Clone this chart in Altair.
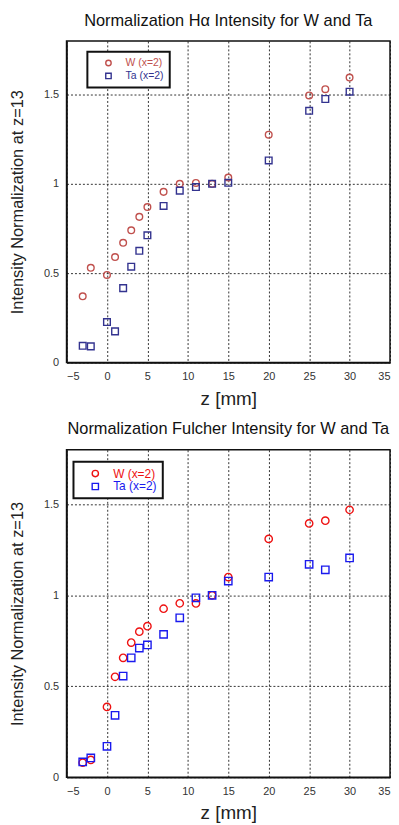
import altair as alt
import pandas as pd

# ---- data ----
z_top = [-3, -2, 0, 1, 2, 3, 4, 5, 7, 9, 11, 13, 15, 20, 25, 27, 30]
w_top = [0.37, 0.53, 0.49, 0.59, 0.67, 0.74, 0.815, 0.87, 0.955, 1.0, 1.005, 1.0, 1.035, 1.275, 1.495, 1.53, 1.595]
ta_top = [0.093, 0.09, 0.226, 0.174, 0.416, 0.536, 0.625, 0.712, 0.876, 0.962, 0.982, 1.0, 1.006, 1.131, 1.409, 1.475, 1.516]

z_bot = [-3, -2, 0, 1, 2, 3, 4, 5, 7, 9, 11, 13, 15, 20, 25, 27, 30]
w_bot = [0.08, 0.095, 0.386, 0.552, 0.656, 0.74, 0.80, 0.83, 0.926, 0.956, 0.955, 1.0, 1.10, 1.31, 1.395, 1.41, 1.47]
ta_bot = [0.084, 0.106, 0.17, 0.34, 0.556, 0.656, 0.71, 0.727, 0.785, 0.876, 0.986, 1.0, 1.078, 1.10, 1.17, 1.14, 1.205]

series = ["W (x=2)", "Ta (x=2)"]
x_ticks = [-5, 0, 5, 10, 15, 20, 25, 30, 35]
y_ticks = [0, 0.5, 1, 1.5]

title_top = "Normalization Hα Intensity for W and Ta"
title_bot = "Normalization Fulcher Intensity for W and Ta"
x_title = "z [mm]"
y_title = "Intensity Normalization at z=13"

FONT = "Liberation Sans"


def make_df(z, w, ta):
    rows = []
    for zi, v in zip(z, w):
        rows.append({"z": zi, "v": v, "s": series[0]})
    for zi, v in zip(z, ta):
        rows.append({"z": zi, "v": v, "s": series[1]})
    return pd.DataFrame(rows)


def panel(df, title, tsize, red, blue, w, h, lx, ly, msize, lsize, lfont, legend_pad):
    color_expr = f"datum.label == '{series[0]}' ? '{red}' : '{blue}'"
    return alt.Chart(df, title=alt.Title(title, fontSize=tsize, font=FONT, fontWeight="normal",
                                         color="#111", offset=12)).mark_point(
        filled=False, strokeWidth=1.4, size=msize, opacity=1
    ).encode(
        x=alt.X("z:Q", scale=alt.Scale(domain=[-5, 35], nice=False),
                axis=alt.Axis(values=x_ticks, title=x_title, format="d")),
        y=alt.Y("v:Q", scale=alt.Scale(domain=[0, 1.8], nice=False),
                axis=alt.Axis(values=y_ticks, title=y_title, labelExpr="datum.value == 0 ? '0' : datum.value == 1 ? '1' : format(datum.value, '.1f')")),
        color=alt.Color("s:N", scale=alt.Scale(domain=series, range=[red, blue]),
                        legend=alt.Legend(title=None, orient="none", legendX=lx, legendY=ly,
                                          strokeColor="#111", fillColor="white",
                                          padding=legend_pad, labelFont=FONT, labelFontSize=lfont,
                                          labelColor={"expr": color_expr}, symbolSize=lsize,
                                          symbolStrokeWidth=1.4, labelOffset=12,
                                          symbolOffset=10)),
        shape=alt.Shape("s:N", scale=alt.Scale(domain=series, range=["circle", "square"]),
                        legend=None),
    ).properties(width=w, height=h)


top = panel(make_df(z_top, w_top, ta_top), title_top, 16.5, "#c0504d", "#33338f", 326, 324, 21, 11, 45, 30, 10.5, 6)
bot = panel(make_df(z_bot, w_bot, ta_bot), title_bot, 16.5, "#ee1111", "#1a1aee", 326, 330, 7, 12, 55, 40, 12, 6)

chart = alt.vconcat(top, bot, spacing=11).resolve_scale(color="independent", shape="independent").properties(
    padding={"left": 0, "top": 0, "right": 0, "bottom": 0}
).configure_view(
    stroke="#111", strokeWidth=1.5
).configure_legend(
    strokeWidth=2, rowPadding=1
).configure_axis(
    grid=True, gridColor="#111", gridDash=[2, 2], gridWidth=1, gridOpacity=0.85,
    domainColor="#111", domainWidth=1.5, ticks=False,
    labelFont=FONT, labelFontSize=11, labelColor="#333", labelPadding=8,
    titleFont=FONT, titleFontWeight="normal", titleColor="#222",
).configure_axisX(
    titleFontSize=19, titlePadding=8
).configure_axisY(
    titleFontSize=16.5, titlePadding=18
)

chart.save("out.html", embed_options={"renderer": "svg", "actions": False})
